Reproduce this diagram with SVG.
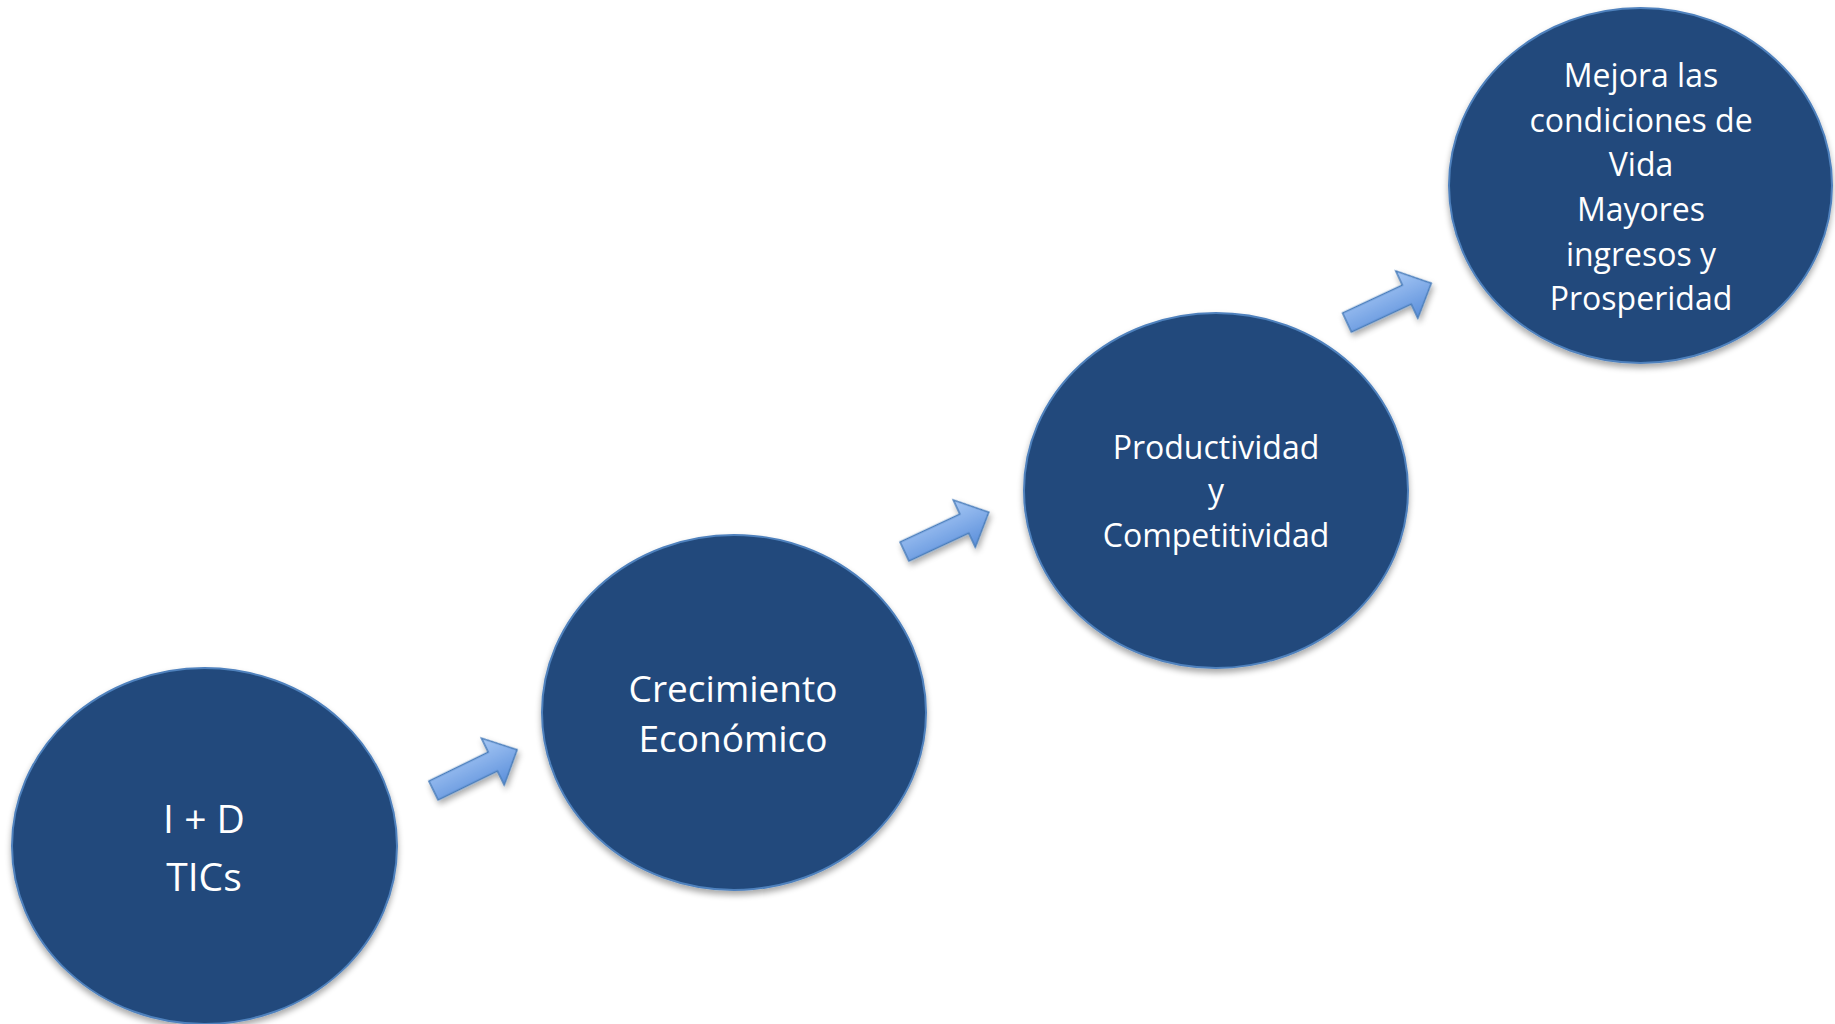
<svg xmlns="http://www.w3.org/2000/svg" width="1835" height="1024" viewBox="0 0 1835 1024">
<defs>
<filter id="sh" x="-20%" y="-20%" width="140%" height="140%">
<feGaussianBlur in="SourceAlpha" stdDeviation="3"/>
<feOffset dx="0" dy="4" result="b"/>
<feComponentTransfer><feFuncA type="linear" slope="0.35"/></feComponentTransfer>
<feMerge><feMergeNode/><feMergeNode in="SourceGraphic"/></feMerge>
</filter>
<linearGradient id="ag" x1="0" y1="0" x2="0" y2="1">
<stop offset="0" stop-color="#a7c8f5"/>
<stop offset="1" stop-color="#5b8fdb"/>
</linearGradient>
<path id="arr" d="M0,-10.5 L66,-10.5 L66,-26 L93,0 L66,26 L66,10.5 L0,10.5 Z"/>
</defs>
<style>
.node ellipse{fill:#214a7c;stroke:#4f81bd;stroke-width:2}
.node text{fill:#ffffff;font-family:"Open Sans","Noto Sans",sans-serif;text-anchor:middle}
.big{font-size:37px}
.bigger{font-size:39px}
.small{font-size:32px}
.conn use{fill:url(#ag);stroke:#4a7ebb;stroke-width:1.5}
</style>
<rect width="1835" height="1024" fill="#ffffff"/>
<g id="connectors" class="conn">
<use href="#arr" transform="translate(433.5,790.5) rotate(-26)" filter="url(#sh)"/>
<use href="#arr" transform="translate(904.5,551.5) rotate(-25)" filter="url(#sh)"/>
<use href="#arr" transform="translate(1347,322.5) rotate(-25)" filter="url(#sh)"/>
</g>
<g id="node1" class="node">
<ellipse cx="204.5" cy="846" rx="192.5" ry="178" filter="url(#sh)"/>
<text class="bigger" x="204" y="833">I + D</text>
<text class="bigger" x="204" y="891">TICs</text>
</g>
<g id="node2" class="node">
<ellipse cx="734" cy="712.5" rx="192" ry="177.5" filter="url(#sh)"/>
<text class="big" x="733" y="702">Crecimiento</text>
<text class="big" x="733" y="752">Económico</text>
</g>
<g id="node3" class="node">
<ellipse cx="1216" cy="490.5" rx="192" ry="177.5" filter="url(#sh)"/>
<text class="small" x="1216" y="459">Productividad</text>
<text class="small" x="1216" y="502">y</text>
<text class="small" x="1216" y="547">Competitividad</text>
</g>
<g id="node4" class="node">
<ellipse cx="1640.5" cy="185.5" rx="191.5" ry="177.5" filter="url(#sh)"/>
<text class="small" x="1641" y="87">Mejora las</text>
<text class="small" x="1641" y="132">condiciones de</text>
<text class="small" x="1641" y="176">Vida</text>
<text class="small" x="1641" y="221">Mayores</text>
<text class="small" x="1641" y="266">ingresos y</text>
<text class="small" x="1641" y="310">Prosperidad</text>
</g>
</svg>
